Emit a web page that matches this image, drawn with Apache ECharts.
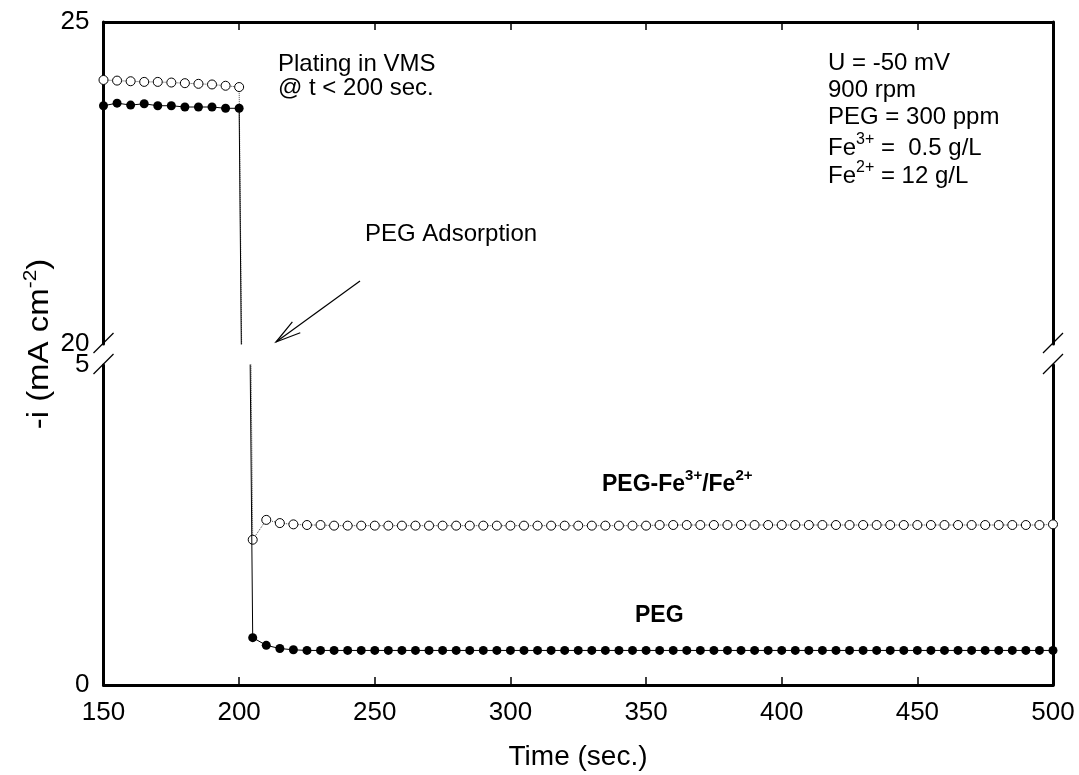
<!DOCTYPE html>
<html>
<head>
<meta charset="utf-8">
<script src="https://cdn.jsdelivr.net/npm/echarts@6/dist/echarts.min.js"></script>
<style>
  html, body { margin: 0; padding: 0; background: #fff; }
  #chart { width: 1079px; height: 775px; }
</style>
</head>
<body>
<div id="chart"></div>
<script>
const FONT = '"Liberation Sans", Arial, Helvetica, sans-serif';

// Sampling times (s): plating in VMS up to 200 s, then PEG adsorption
const time = [
  150, 155, 160, 165, 170, 175, 180, 185, 190, 195, 200,
  205, 210, 215, 220, 225, 230, 235, 240, 245, 250,
  255, 260, 265, 270, 275, 280, 285, 290, 295, 300,
  305, 310, 315, 320, 325, 330, 335, 340, 345, 350,
  355, 360, 365, 370, 375, 380, 385, 390, 395, 400,
  405, 410, 415, 420, 425, 430, 435, 440, 445, 450,
  455, 460, 465, 470, 475, 480, 485, 490, 495, 500
];

// -i (mA cm^-2), PEG only
const currentPEG = [
  23.70, 23.74, 23.71, 23.73, 23.70, 23.70, 23.68, 23.68, 23.68, 23.66, 23.66,
  0.74, 0.62, 0.57, 0.55, 0.54, 0.54, 0.54, 0.54, 0.54, 0.54,
  0.54, 0.54, 0.54, 0.54, 0.54, 0.54, 0.54, 0.54, 0.54, 0.54,
  0.54, 0.54, 0.54, 0.54, 0.54, 0.54, 0.54, 0.54, 0.54, 0.54,
  0.54, 0.54, 0.54, 0.54, 0.54, 0.54, 0.54, 0.54, 0.54, 0.54,
  0.54, 0.54, 0.54, 0.54, 0.54, 0.54, 0.54, 0.54, 0.54, 0.54,
  0.54, 0.54, 0.54, 0.54, 0.54, 0.54, 0.54, 0.54, 0.54, 0.54
];

// -i (mA cm^-2), PEG with Fe3+/Fe2+
const currentPEGFe = [
  24.10, 24.09, 24.08, 24.07, 24.07, 24.06, 24.05, 24.04, 24.03, 24.01, 23.99,
  2.27, 2.58, 2.53, 2.51, 2.50, 2.50, 2.49, 2.49, 2.49, 2.49,
  2.49, 2.49, 2.49, 2.49, 2.49, 2.49, 2.49, 2.49, 2.49, 2.49,
  2.49, 2.49, 2.49, 2.49, 2.49, 2.49, 2.49, 2.49, 2.49, 2.49,
  2.50, 2.50, 2.50, 2.50, 2.50, 2.50, 2.50, 2.50, 2.50, 2.50,
  2.50, 2.50, 2.50, 2.50, 2.50, 2.50, 2.50, 2.50, 2.50, 2.50,
  2.50, 2.50, 2.50, 2.50, 2.50, 2.50, 2.50, 2.50, 2.50, 2.51
];

// Axis ranges for the broken y scale
const timeRange = [150, 500, 50];
const upperRange = [20, 25, 5];
const lowerRange = [0, 5, 5];

// Layout (px)
const L = { left: 103.5, right: 1053, upperTop: 22, upperBottom: 344, lowerTop: 365, lowerBottom: 685 };

const pegData = time.map((t, i) => [t, currentPEG[i]]);
const pegFeData = time.map((t, i) => [t, currentPEGFe[i]]);

const axisLine = { show: true, onZero: false, lineStyle: { color: '#000', width: 3 } };
const tickStyle = { show: true, inside: true, length: 8, lineStyle: { color: '#000', width: 1.5 } };
const labelStyle = { color: '#000', fontSize: 26, fontFamily: FONT };

function xAxis(gridIndex, position, showLabels) {
  return {
    type: 'value', gridIndex, position,
    min: timeRange[0], max: timeRange[1], interval: timeRange[2],
    axisLine, axisTick: tickStyle,
    axisLabel: { show: showLabels, margin: 15, ...labelStyle },
    splitLine: { show: false }
  };
}
function yAxis(gridIndex, position, range, showLabels) {
  return {
    type: 'value', gridIndex, position,
    min: range[0], max: range[1], interval: range[2],
    axisLine, axisTick: { show: false },
    axisLabel: { show: showLabels, margin: 14, ...labelStyle },
    splitLine: { show: false }
  };
}

const filledSeries = (xi, yi) => ({
  type: 'line', xAxisIndex: xi, yAxisIndex: yi, data: pegData, clip: true,
  symbol: 'circle', symbolSize: 9, showAllSymbol: true,
  itemStyle: { color: '#000' },
  lineStyle: { color: '#000', width: 1 },
  z: 3
});
const openSeries = (xi, yi) => ({
  type: 'line', xAxisIndex: xi, yAxisIndex: yi, data: pegFeData, clip: true,
  symbol: 'circle', symbolSize: 9, showAllSymbol: true,
  itemStyle: { color: '#fff', borderColor: '#000', borderWidth: 1 },
  lineStyle: { color: '#444', width: 1, type: 'dotted' },
  z: 2
});

function txt(x, y, text, extra) {
  return Object.assign({
    type: 'text', x, y, silent: true,
    style: Object.assign({
      text, fill: '#000', fontSize: 24, fontFamily: FONT,
      align: 'left', verticalAlign: 'middle', textAlign: 'left', textVerticalAlign: 'middle'
    }, extra && extra.style)
  }, extra && extra.el);
}

const supRich = {
  n: { fontSize: 24, fontFamily: FONT, color: '#000', lineHeight: 28, verticalAlign: 'bottom' },
  s: { fontSize: 16, fontFamily: FONT, color: '#000', lineHeight: 16, verticalAlign: 'top' },
  nb: { fontSize: 23, fontFamily: FONT, fontWeight: 'bold', color: '#000', lineHeight: 28, verticalAlign: 'bottom' },
  sb: { fontSize: 15, fontFamily: FONT, fontWeight: 'bold', color: '#000', lineHeight: 15, verticalAlign: 'top' },
  t: { fontSize: 30, fontFamily: FONT, color: '#000', lineHeight: 34, verticalAlign: 'bottom' },
  ts: { fontSize: 19, fontFamily: FONT, color: '#000', lineHeight: 19, verticalAlign: 'top' }
};

function breakMark(x, y) {
  return { type: 'line', silent: true, shape: { x1: x - 10, y1: y + 10, x2: x + 10, y2: y - 10 }, style: { stroke: '#000', lineWidth: 1.3 } };
}

// Arrow pointing at the current drop
const arrowTip = [276, 342], arrowTail = [360, 281];
const ang = Math.atan2(arrowTail[1] - arrowTip[1], arrowTail[0] - arrowTip[0]);
const barb = 26, spread = 15 * Math.PI / 180;
const barb1 = [arrowTip[0] + barb * Math.cos(ang - spread), arrowTip[1] + barb * Math.sin(ang - spread)];
const barb2 = [arrowTip[0] + barb * Math.cos(ang + spread), arrowTip[1] + barb * Math.sin(ang + spread)];

const chart = echarts.init(document.getElementById('chart'), null, { renderer: 'canvas' });
chart.setOption({
  animation: false,
  backgroundColor: '#fff',
  grid: [
    { left: L.left, width: L.right - L.left, top: L.upperTop, height: L.upperBottom - L.upperTop },
    { left: L.left, width: L.right - L.left, top: L.lowerTop, height: L.lowerBottom - L.lowerTop }
  ],
  xAxis: [xAxis(0, 'top', false), xAxis(1, 'bottom', true)],
  yAxis: [
    yAxis(0, 'left', upperRange, true), yAxis(0, 'right', upperRange, false),
    yAxis(1, 'left', lowerRange, true), yAxis(1, 'right', lowerRange, false)
  ],
  series: [openSeries(0, 0), filledSeries(0, 0), openSeries(1, 2), filledSeries(1, 2)],
  graphic: [
    breakMark(L.left, 343), breakMark(L.left, 364),
    breakMark(L.right, 343), breakMark(L.right, 364),
    // axis titles
    txt(578, 757, 'Time (sec.)', { style: { fontSize: 28, align: 'center', textAlign: 'center' } }),
    txt(38, 344, '{t|-i (mA cm}{ts|-2}{t|)}', { el: { rotation: Math.PI / 2, scaleX: 1.1 }, style: { rich: supRich, align: 'center', textAlign: 'center' } }),
    // annotations
    txt(278, 64, 'Plating in VMS'),
    txt(278, 88, '@ t < 200 sec.'),
    txt(365, 234, 'PEG Adsorption'),
    txt(828, 63, 'U = -50 mV'),
    txt(828, 90, '900 rpm'),
    txt(828, 117, 'PEG = 300 ppm'),
    txt(828, 146, '{n|Fe}{s|3+}{n| =  0.5 g/L}', { style: { rich: supRich } }),
    txt(828, 174, '{n|Fe}{s|2+}{n| = 12 g/L}', { style: { rich: supRich } }),
    txt(602, 482, '{nb|PEG-Fe}{sb|3+}{nb|/Fe}{sb|2+}', { style: { rich: supRich } }),
    txt(635, 616, 'PEG', { style: { fontSize: 23, fontWeight: 'bold' } }),
    { type: 'line', silent: true, shape: { x1: arrowTail[0], y1: arrowTail[1], x2: arrowTip[0], y2: arrowTip[1] }, style: { stroke: '#000', lineWidth: 1.2 } },
    { type: 'polyline', silent: true, shape: { points: [barb1, arrowTip, barb2] }, style: { stroke: '#000', fill: null, lineWidth: 1.2 } }
  ]
});
</script>
</body>
</html>
